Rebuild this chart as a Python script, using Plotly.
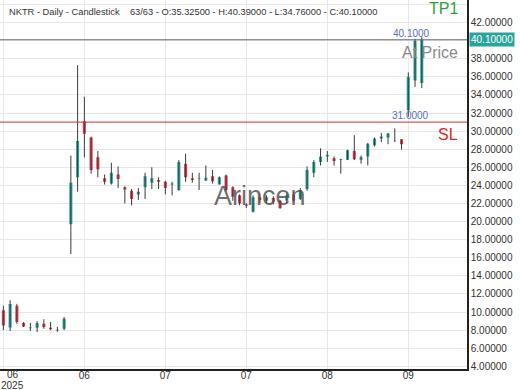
import plotly.graph_objects as go

dates = [
    "2025-06-09", "2025-06-10", "2025-06-11", "2025-06-12", "2025-06-13", "2025-06-16", "2025-06-17",
    "2025-06-18", "2025-06-20", "2025-06-23", "2025-06-24", "2025-06-25", "2025-06-26", "2025-06-27",
    "2025-06-30", "2025-07-01", "2025-07-02", "2025-07-03", "2025-07-07", "2025-07-08", "2025-07-09",
    "2025-07-10", "2025-07-11", "2025-07-14", "2025-07-15", "2025-07-16", "2025-07-17", "2025-07-18",
    "2025-07-21", "2025-07-22", "2025-07-23", "2025-07-24", "2025-07-25", "2025-07-28", "2025-07-29",
    "2025-07-30", "2025-07-31", "2025-08-01", "2025-08-04", "2025-08-05", "2025-08-06", "2025-08-07",
    "2025-08-08", "2025-08-11", "2025-08-12", "2025-08-13", "2025-08-14", "2025-08-15", "2025-08-18",
    "2025-08-19", "2025-08-20", "2025-08-21", "2025-08-22", "2025-08-25", "2025-08-26", "2025-08-27",
    "2025-08-28", "2025-08-29", "2025-09-02", "2025-09-03", "2025-09-04", "2025-09-05", "2025-09-08",
]
opens = [10.2, 8.3, 10.7, 8.8, 8.2, 8.25, 8.7, 8.25, 7.95, 8.15,
         19.7, 24.9, 31.1, 29.3, 27.1, 24.8, 24.2, 25.2, 23.8, 23.4,
         23.0, 23.8, 24.3, 24.6, 24.4, 24.1, 23.5, 26.4, 24.8, 24.7,
         24.55, 25.0, 24.1, 25.1, 23.8, 22.9, 21.9, 21.1, 22.7, 22.3,
         22.6, 22.3, 22.3, 23.0, 22.5, 23.6, 25.4, 26.6, 27.2, 27.0,
         26.8, 26.85, 27.8, 26.85, 27.2, 28.45, 29.2, 29.3, 28.9, 29.1,
         32.3, 35.6, 35.325]
highs = [10.7, 11.3, 10.9, 8.9, 8.8, 9.0, 9.2, 8.9, 8.35, 9.45,
         27.3, 37.3, 33.8, 29.4, 27.8, 25.2, 26.5, 26.1, 23.9, 23.6,
         23.7, 25.4, 26.0, 24.9, 24.5, 24.4, 26.8, 27.5, 25.4, 25.4,
         26.2, 25.7, 25.0, 25.2, 23.9, 23.0, 22.05, 22.9, 23.1, 22.9,
         22.8, 22.4, 23.2, 23.3, 23.7, 26.1, 26.8, 28.1, 27.8, 27.2,
         26.95, 27.95, 29.55, 27.3, 28.7, 29.3, 29.8, 29.8, 30.3, 29.1,
         36.5, 40.2, 40.39]
lows = [8.0, 7.9, 8.7, 8.35, 7.9, 7.8, 8.15, 8.0, 7.8, 8.0,
        16.4, 23.3, 27.1, 25.3, 24.9, 24.1, 24.1, 23.7, 22.0, 21.8,
        22.4, 22.5, 23.6, 23.6, 23.0, 22.9, 23.4, 24.4, 24.3, 23.5,
        24.5, 24.2, 24.1, 23.3, 22.3, 21.8, 21.5, 21.0, 22.1, 22.0,
        21.9, 21.4, 22.0, 22.1, 22.4, 23.4, 24.9, 26.2, 26.6, 26.2,
        25.3, 26.8, 26.8, 26.4, 26.2, 28.3, 28.8, 28.55, 28.8, 27.95,
        31.6, 34.9, 34.76]
closes = [8.5, 10.9, 8.9, 8.4, 8.3, 8.8, 8.35, 8.1, 8.05, 9.25,
          24.3, 28.9, 29.7, 25.7, 25.8, 24.4, 25.4, 24.7, 23.55, 22.5,
          23.3, 25.0, 24.8, 24.4, 23.7, 24.2, 26.6, 24.9, 24.6, 24.75,
          24.85, 24.45, 24.9, 23.5, 22.75, 22.0, 21.75, 22.7, 22.4, 22.7,
          22.2, 21.5, 22.9, 22.3, 23.5, 25.7, 26.6, 27.2, 27.35, 26.7,
          26.9, 27.9, 26.9, 27.1, 28.6, 29.2, 29.4, 29.75, 28.95, 28.55,
          36.0, 40.0, 40.10]

tick_idx = [0, 12, 24, 36, 48, 60]
tick_labels = ["", "06", "07", "07", "08", "09"]
first_month = "06"
first_year = "2025"

last_price = 40.10
sl_price = 31.0
y_ticks = [4, 6, 8, 10, 12, 14, 16, 18, 20, 22, 24, 26, 28, 30, 32, 34, 36, 38, 40, 42, 44]

UP = "#26a69a"
DOWN = "#e8394f"
FONT = "Liberation Sans, Arial, sans-serif"

# wick trace (drawn below bodies)
wx, wy = [], []
for d, h, l in zip(dates, highs, lows):
    wx += [d, d, None]
    wy += [l, h, None]

fig = go.Figure()
fig.add_trace(go.Scatter(x=wx, y=wy, mode="lines", line=dict(color="#3a3a3a", width=1),
                         hoverinfo="skip", showlegend=False))
fig.add_trace(go.Candlestick(
    x=dates, open=opens, high=highs, low=lows, close=closes,
    increasing=dict(fillcolor=UP, line=dict(color=UP, width=0)),
    decreasing=dict(fillcolor=DOWN, line=dict(color=DOWN, width=0)),
    whiskerwidth=0, showlegend=False,
))

fig.update_layout(
    width=520, height=390,
    margin=dict(l=0, r=53, t=0, b=21),
    paper_bgcolor="white", plot_bgcolor="white",
    font=dict(family=FONT, size=10, color="#333"),
    showlegend=False,
    boxgap=0.35,
    xaxis=dict(
        type="category", range=[-0.5, 68.7],
        rangeslider=dict(visible=False),
        tickmode="array", tickvals=[dates[i] for i in tick_idx], ticktext=tick_labels,
        showgrid=True, gridcolor="#e8e8e8", gridwidth=1,
        showline=True, linecolor="#222", linewidth=1.5,
        ticks="", tickfont=dict(size=10, color="#333"), ticklabelstandoff=-4,
        zeroline=False,
    ),
    yaxis=dict(
        side="right", range=[3.7, 44.5],
        tickmode="array", tickvals=y_ticks, tickformat=".5f",
        showgrid=True, gridcolor="#e8e8e8", gridwidth=1,
        showline=True, linecolor="#222", linewidth=1.5,
        ticks="", tickfont=dict(size=10, color="#333"),
        zeroline=False,
    ),
)

fig.add_hline(y=last_price, line=dict(color="#666666", width=1))
fig.add_hline(y=sl_price, line=dict(color="#d42a2a", width=1))

ann = [
    dict(text="NKTR - Daily - Candlestick&nbsp;&nbsp;&nbsp;&nbsp;63/63 - O:35.32500 - H:40.39000 - L:34.76000 - C:40.10000",
         xref="paper", yref="paper", x=0, y=1, xanchor="left", yanchor="middle",
         xshift=7, yshift=-12, font=dict(size=9.3, color="#333"), showarrow=False),
    dict(text=first_month, xref="x", yref="paper", x=dates[0], y=0, xanchor="center", yanchor="middle",
         xshift=10, yshift=-5, borderpad=0, font=dict(size=10, color="#333"), showarrow=False),
    dict(text=first_year, xref="x", yref="paper", x=dates[0], y=0, xanchor="center", yanchor="middle",
         xshift=9, yshift=-16, borderpad=0, font=dict(size=10, color="#333"), showarrow=False),
    dict(text="40.1000", xref="x", yref="y", x=dates[60], y=last_price, xanchor="center", yanchor="bottom",
         xshift=3, yshift=-1, font=dict(size=10, color="#5b6fc2"), showarrow=False),
    dict(text="31.0000", xref="x", yref="y", x=dates[60], y=sl_price, xanchor="center", yanchor="bottom",
         xshift=2, yshift=-1, font=dict(size=10, color="#5b6fc2"), showarrow=False),
    dict(text="At Price", xref="paper", yref="y", x=460 / 467, y=38.65, xanchor="right", yanchor="middle",
         font=dict(size=16, color="#8a8a8a"), showarrow=False),
    dict(text="TP1", xref="paper", yref="y", x=460 / 467, y=43.6, xanchor="right", yanchor="middle",
         font=dict(size=16, color="#2f9e3a"), showarrow=False),
    dict(text="SL", xref="paper", yref="y", x=460 / 467, y=29.6, xanchor="right", yanchor="middle",
         font=dict(size=16, color="#e02525"), showarrow=False),
    dict(text="Arincen", xref="paper", yref="y", x=260 / 467, y=22.8, xanchor="center", yanchor="middle",
         font=dict(size=27, color="rgba(85,85,85,0.85)"), showarrow=False),
    dict(text="%.5f" % last_price, xref="paper", yref="y", x=1, y=last_price, xanchor="left", yanchor="middle",
         xshift=2, bgcolor=UP, borderpad=1, font=dict(size=10, color="white"), showarrow=False),
]
for a in ann:
    fig.add_annotation(**a)

fig.write_html("out.html", config={"displayModeBar": False},
               post_script="document.body.style.margin='0';document.body.style.padding='0';")
